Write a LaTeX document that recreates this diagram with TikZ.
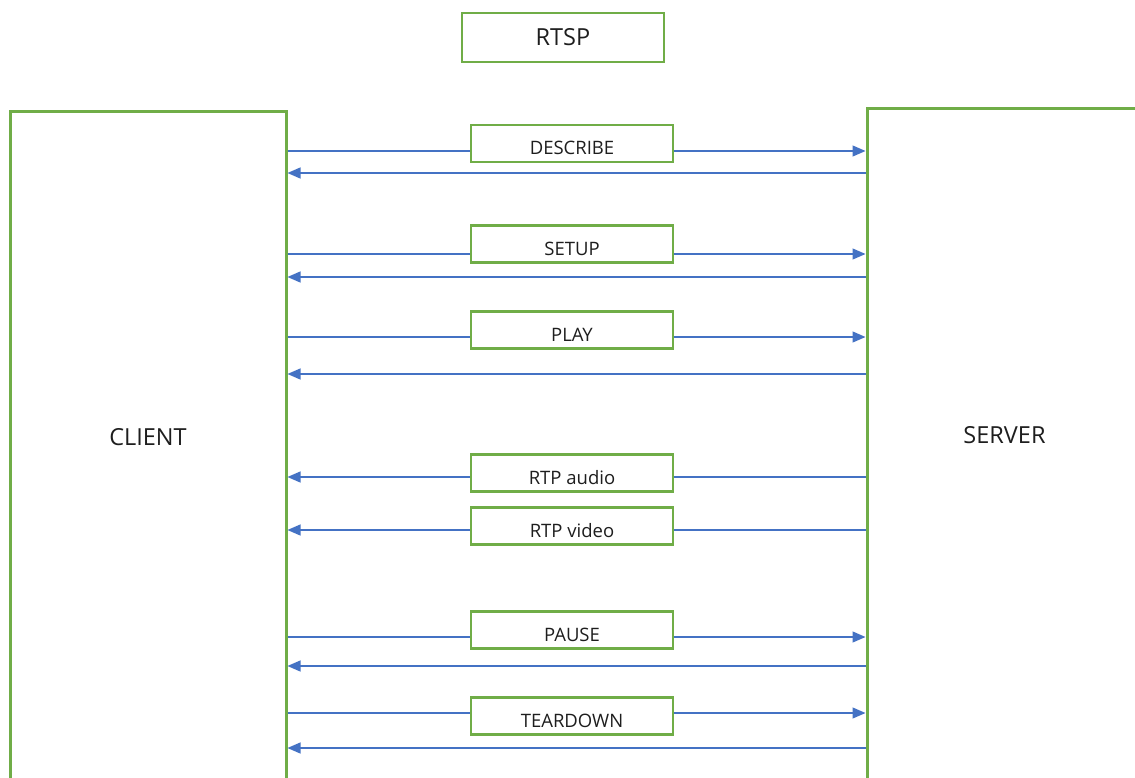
\documentclass[tikz,border=0pt]{standalone}
\usepackage{fontspec}
\setmainfont{Open Sans}
\usetikzlibrary{arrows.meta}
\definecolor{gr}{HTML}{70AD47}
\definecolor{bl}{HTML}{4472C4}
\definecolor{tx}{HTML}{1E1E1E}
\begin{document}
\begin{tikzpicture}[x=1pt,y=-1pt,
  bigbox/.style={draw=gr, line width=3pt, anchor=north west, inner sep=0pt},
  msg/.style={draw=gr, line width=2.8pt, fill=white, minimum width=202pt, minimum height=37pt, inner sep=0pt, text=tx, font=\fontsize{18.5}{22}\selectfont, text height=23pt, text depth=0pt},
  lbl/.style={text=tx, font=\fontsize{23.5}{28}\selectfont, inner sep=0pt},
  req/.style={draw=bl, line width=1.3pt, -{Triangle[length=13pt,width=11pt]}},
  rsp/.style={draw=bl, line width=1.3pt, {Triangle[length=13pt,width=11pt]}-}]
\useasboundingbox (0,0) rectangle (1135,778);
\clip (0,0) rectangle (1135,778);
\node[bigbox, minimum width=276pt, minimum height=720pt] (client) at (8.5,110) {};
\node[bigbox, minimum width=320pt, minimum height=720pt] (server) at (865.5,107) {};
\node[lbl] (clientlbl) at (148,437) {CLIENT};
\node[lbl] (serverlbl) at (1004.5,435) {SERVER};
\node[draw=gr, line width=2.8pt, minimum width=202pt, minimum height=49pt, inner sep=0pt, text=tx, font=\fontsize{23.5}{28}\selectfont] (rtsp) at (563,37.5) {RTSP};
% arrows
\draw[req] (client.east |- 0,151) -- (server.west |- 0,151);
\draw[rsp] (client.east |- 0,173) -- (server.west |- 0,173);
\draw[req] (client.east |- 0,254) -- (server.west |- 0,254);
\draw[rsp] (client.east |- 0,277) -- (server.west |- 0,277);
\draw[req] (client.east |- 0,337) -- (server.west |- 0,337);
\draw[rsp] (client.east |- 0,374) -- (server.west |- 0,374);
\draw[rsp] (client.east |- 0,477) -- (server.west |- 0,477);
\draw[rsp] (client.east |- 0,530) -- (server.west |- 0,530);
\draw[req] (client.east |- 0,637) -- (server.west |- 0,637);
\draw[rsp] (client.east |- 0,666) -- (server.west |- 0,666);
\draw[req] (client.east |- 0,713) -- (server.west |- 0,713);
\draw[rsp] (client.east |- 0,748) -- (server.west |- 0,748);
% message boxes
\node[msg] (describe) at (572,143.5) {DESCRIBE};
\node[msg] (setup) at (572,244) {SETUP};
\node[msg] (play) at (572,330) {PLAY};
\node[msg] (rtpaudio) at (572,473) {RTP audio};
\node[msg] (rtpvideo) at (572,526) {RTP video};
\node[msg] (pause) at (572,630) {PAUSE};
\node[msg] (teardown) at (572,716) {TEARDOWN};
\end{tikzpicture}
\end{document}
